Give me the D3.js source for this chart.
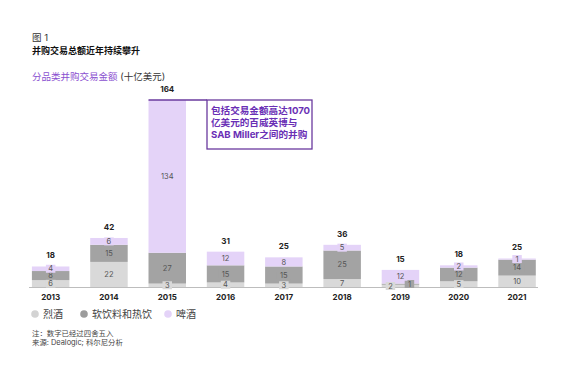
<!DOCTYPE html>
<html><head><meta charset="utf-8">
<script src="https://cdn.jsdelivr.net/npm/d3@7"></script>
<style>
html,body{margin:0;padding:0;background:#fff;}
svg{display:block;font-family:Inter,"Noto Sans CJK SC",sans-serif;}
</style></head>
<body>
<svg id="c" width="567" height="378"></svg>
<script>
const years = ["2013","2014","2015","2016","2017","2018","2019","2020","2021"];
const spirits = [6,22,3,4,3,7,2,5,10];
const softDrinks = [8,15,27,15,15,25,1,12,14];
const beer = [4,6,134,12,8,5,12,2,1];
const totals = [18,42,164,31,25,36,15,18,25];
const seriesNames = ["烈酒","软饮料和热饮","啤酒"];
const seriesColors = ["#d9d9d9","#a3a3a3","#e4d3f8"];
const legendColors = ["#d3d3d3","#9c9c9c","#e4d3f8"];
const noteLines = ["注：数字已经过四舍五入","来源: Dealogic; 科尔尼分析"];
const annotationLines = ["包括交易金额高达1070","亿美元的百威英博与","SAB Miller之间的并购"];

const svg = d3.select("#c");

// headings
svg.append("text").attr("x",32).attr("y",41).attr("font-size",9.5).attr("fill","#333").text("图 1");
svg.append("text").attr("x",32).attr("y",54).attr("font-size",9).attr("font-weight",700).attr("fill","#111").text("并购交易总额近年持续攀升");
const sub = svg.append("text").attr("x",32).attr("y",80).attr("font-size",9.5);
sub.append("tspan").attr("fill","#8a4fd0").text("分品类并购交易金额");
sub.append("tspan").attr("fill","#333").text(" (十亿美元)");

const x = d3.scaleBand().domain(years).range([21.5,546.2]).paddingInner(0.357).paddingOuter(0.1785);
const y = d3.scaleLinear().domain([0,164]).range([287,100]);

const rows = years.map((yr,i)=>({year:yr, s0:spirits[i], s1:softDrinks[i], s2:beer[i], total:totals[i]}));
const stack = d3.stack().keys(["s0","s1","s2"])(rows);

// axis line
svg.append("line").attr("x1",29).attr("x2",538).attr("y1",287.5).attr("y2",287.5).attr("stroke","#bdbdbd").attr("stroke-width",1.2);

// bars
stack.forEach((layer,k)=>{
  svg.append("g").selectAll("rect").data(layer).join("rect")
    .attr("x",d=>x(d.data.year)).attr("width",x.bandwidth())
    .attr("y",d=>y(d[1])).attr("height",d=>y(d[0])-y(d[1]))
    .attr("fill",seriesColors[k]);
});

// segment labels with colored boxes
const labG = svg.append("g");
stack.forEach((layer,k)=>{
  layer.forEach((d,i)=>{
    const v = d[1]-d[0];
    let cx = x(d.data.year)+x.bandwidth()/2;
    let cy = (y(d[0])+y(d[1]))/2;
    // two tiny adjacent segments: spread labels sideways
    if (d.data.s0 < 3 && d.data.s1 < 3 && k<2) { cx += (k===0 ? -10 : 9); cy = (k===0? 286: 284); }
    const txt = String(v);
    const w = txt.length*4.5+5;
    labG.append("rect").attr("x",cx-w/2).attr("y",cy-4).attr("width",w).attr("height",8).attr("fill",seriesColors[k]);
    labG.append("text").attr("x",cx).attr("y",cy+2.7).attr("text-anchor","middle")
      .attr("font-size",7.5).attr("fill","#555").text(txt);
  });
});

// totals
svg.append("g").selectAll("text").data(rows).join("text")
  .attr("x",d=>x(d.year)+x.bandwidth()/2)
  .attr("y",d=>y(d3.sum([d.s0,d.s1,d.s2]))-8)
  .attr("text-anchor","middle").attr("font-size",8).attr("font-weight",700).attr("fill","#222")
  .text(d=>d.total);

// year labels
svg.append("g").selectAll("text").data(years).join("text")
  .attr("x",d=>x(d)+x.bandwidth()/2).attr("y",300)
  .attr("text-anchor","middle").attr("font-size",8).attr("font-weight",700).attr("fill","#222")
  .text(d=>d);

// annotation
const topY = y(164);
svg.append("line").attr("x1",x("2015")).attr("x2",207).attr("y1",topY).attr("y2",topY).attr("stroke","#6a3a9e").attr("stroke-width",1.3);
svg.append("rect").attr("x",207).attr("y",topY).attr("width",105).attr("height",49)
  .attr("fill","#fff").attr("stroke","#6a3a9e").attr("stroke-width",1.3);
annotationLines.forEach((t,i)=>{
  svg.append("text").attr("x",211).attr("y",topY+14+i*11.8).attr("font-size",9.6).attr("font-weight",700)
    .attr("fill","#6a2fb5").text(t);
});

// legend
const legX = [35,84,168];
seriesNames.forEach((n,i)=>{
  svg.append("circle").attr("cx",legX[i]).attr("cy",314).attr("r",3.8).attr("fill",legendColors[i]);
  svg.append("text").attr("x",legX[i]+8).attr("y",318).attr("font-size",10).attr("fill","#444").text(n);
});

// notes
noteLines.forEach((t,i)=>{
  svg.append("text").attr("x",32).attr("y",336+i*9).attr("font-size",7.4).attr("fill","#444").text(t);
});
</script>
</body></html>
